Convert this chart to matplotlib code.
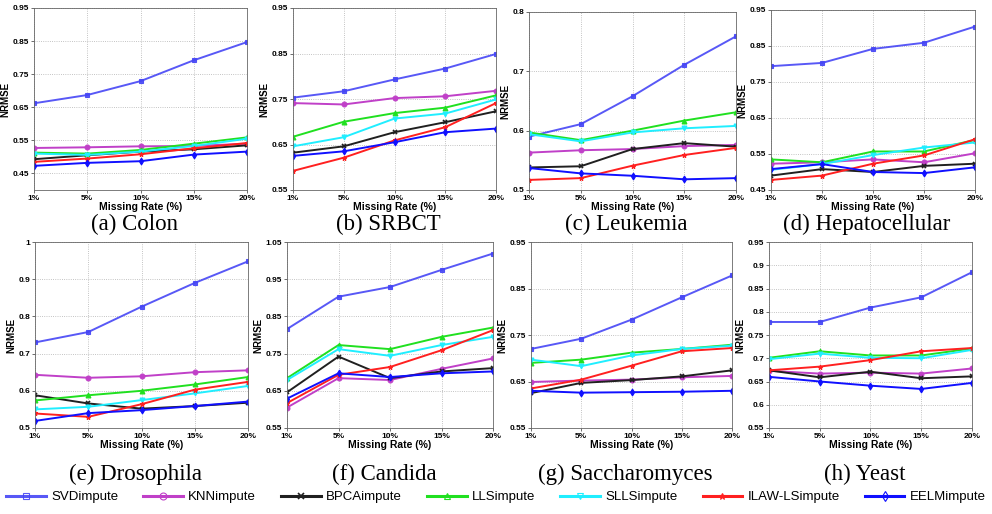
import numpy as np
import matplotlib
matplotlib.use('Agg')
import matplotlib.pyplot as plt

# missing rates and methods
rates = ['1%', '5%', '10%', '15%', '20%']
methods = ['SVDimpute', 'KNNimpute', 'BPCAimpute', 'LLSimpute',
           'SLLSimpute', 'ILAW-LSimpute', 'EELMimpute']

# NRMSE per dataset, one row per method (same order as methods)
colon = [[0.662, 0.687, 0.729, 0.792, 0.847],
         [0.527, 0.529, 0.532, 0.533, 0.540],
         [0.493, 0.505, 0.516, 0.523, 0.535],
         [0.513, 0.510, 0.521, 0.540, 0.559],
         [0.510, 0.506, 0.516, 0.533, 0.555],
         [0.485, 0.495, 0.508, 0.526, 0.542],
         [0.473, 0.482, 0.487, 0.507, 0.516]]
srbct = [[0.753, 0.767, 0.793, 0.817, 0.849],
         [0.741, 0.738, 0.752, 0.756, 0.768],
         [0.632, 0.646, 0.677, 0.699, 0.723],
         [0.667, 0.700, 0.719, 0.731, 0.758],
         [0.646, 0.666, 0.707, 0.718, 0.749],
         [0.592, 0.621, 0.659, 0.688, 0.741],
         [0.625, 0.635, 0.655, 0.677, 0.685]]
leukemia = [[0.590, 0.611, 0.658, 0.711, 0.759],
            [0.563, 0.567, 0.569, 0.574, 0.576],
            [0.538, 0.540, 0.569, 0.579, 0.573],
            [0.597, 0.584, 0.600, 0.617, 0.631],
            [0.594, 0.582, 0.597, 0.604, 0.608],
            [0.517, 0.520, 0.541, 0.559, 0.571],
            [0.537, 0.528, 0.524, 0.518, 0.520]]
hepato = [[0.794, 0.803, 0.842, 0.859, 0.904],
          [0.523, 0.527, 0.535, 0.527, 0.552],
          [0.490, 0.508, 0.500, 0.517, 0.523],
          [0.535, 0.527, 0.557, 0.557, 0.589],
          [0.506, 0.522, 0.547, 0.568, 0.582],
          [0.478, 0.490, 0.523, 0.546, 0.591],
          [0.508, 0.522, 0.500, 0.497, 0.513]]
drosophila = [[0.730, 0.758, 0.826, 0.890, 0.948],
              [0.643, 0.635, 0.639, 0.650, 0.655],
              [0.588, 0.566, 0.552, 0.559, 0.568],
              [0.574, 0.588, 0.600, 0.617, 0.637],
              [0.550, 0.557, 0.575, 0.593, 0.613],
              [0.539, 0.530, 0.564, 0.603, 0.624],
              [0.519, 0.540, 0.548, 0.559, 0.571]]
candida = [[0.816, 0.903, 0.929, 0.975, 1.019],
           [0.605, 0.684, 0.679, 0.709, 0.737],
           [0.646, 0.742, 0.684, 0.702, 0.711],
           [0.684, 0.773, 0.762, 0.795, 0.820],
           [0.679, 0.762, 0.744, 0.773, 0.795],
           [0.617, 0.693, 0.714, 0.759, 0.813],
           [0.629, 0.697, 0.687, 0.697, 0.702]]
saccharo = [[0.720, 0.742, 0.783, 0.831, 0.878],
            [0.649, 0.652, 0.654, 0.659, 0.662],
            [0.625, 0.647, 0.653, 0.661, 0.674],
            [0.690, 0.697, 0.712, 0.720, 0.729],
            [0.697, 0.683, 0.706, 0.720, 0.727],
            [0.635, 0.654, 0.684, 0.715, 0.722],
            [0.630, 0.626, 0.627, 0.628, 0.630]]
yeast = [[0.778, 0.778, 0.809, 0.831, 0.885],
         [0.673, 0.667, 0.669, 0.667, 0.678],
         [0.674, 0.659, 0.671, 0.657, 0.661],
         [0.701, 0.715, 0.706, 0.706, 0.721],
         [0.698, 0.710, 0.701, 0.700, 0.718],
         [0.674, 0.682, 0.696, 0.715, 0.722],
         [0.660, 0.650, 0.641, 0.634, 0.647]]

titles = ['(a) Colon', '(b) SRBCT', '(c) Leukemia', '(d) Hepatocellular',
          '(e) Drosophila', '(f) Candida', '(g) Saccharomyces', '(h) Yeast']
datasets = [colon, srbct, leukemia, hepato, drosophila, candida, saccharo, yeast]

colors = ['#4646f5', '#c040c8', '#202020', '#20e020', '#20eeff', '#ff2020', '#1010ff']
markers = ['s', 'o', 'x', '^', 'v', '*', 'd']

# axes boxes in pixels: left, right, top, bottom
W, H = 992, 514
boxes = [(34, 247, 8, 190), (293, 496, 8, 190), (529, 736, 12, 190), (771, 975, 10, 190),
         (35, 248, 242, 428), (287, 493, 242, 428), (531, 732, 242, 428), (769, 972, 242, 428)]
caption_y = [224, 224, 224, 224, 474, 474, 474, 474]
ylims = [(0.4, 0.95), (0.55, 0.95), (0.5, 0.8), (0.45, 0.95),
         (0.5, 1.0), (0.55, 1.05), (0.55, 0.95), (0.55, 0.95)]
yticks = [np.arange(0.45, 0.96, 0.1), np.arange(0.55, 0.96, 0.1), np.arange(0.5, 0.81, 0.1),
          np.arange(0.45, 0.96, 0.1), np.arange(0.5, 1.01, 0.1), np.arange(0.55, 1.06, 0.1),
          np.arange(0.55, 0.96, 0.1), np.arange(0.55, 0.96, 0.05)]

fig = plt.figure(figsize=(W / 100, H / 100), dpi=100)
x = np.arange(1, len(rates) + 1)
tick_font = dict(family='Liberation Sans', weight='bold', size=6)

handles = []
for i, data in enumerate(datasets):
    l, r, t, b = boxes[i]
    ax = fig.add_axes([l / W, 1 - b / H, (r - l) / W, (b - t) / H])
    for j, row in enumerate(data):
        ln, = ax.plot(x, row, color=colors[j], marker=markers[j], markersize=3.5,
                      lw=1.4, mew=1.2 if markers[j] == 'x' else 0.8, label=methods[j],
                      alpha=0.9 if j == 0 else 1.0)
        if i == 0:
            handles.append(ln)
    ax.set_xlim(1, 5)
    ax.set_ylim(*ylims[i])
    ax.set_xticks(x)
    ax.set_xticklabels(rates, fontdict=tick_font)
    yt = np.round(yticks[i], 2)
    ax.set_yticks(yt)
    ax.set_yticklabels(['%g' % v for v in yt], fontdict=tick_font)
    ax.tick_params(length=2, width=0.6, pad=1.5, color='#555555')
    ax.grid(True, ls=':', lw=0.6, color='#b0b0b0')
    for s in ax.spines.values():
        s.set_linewidth(0.6)
        s.set_color('#666666')
    ax.set_ylabel('NRMSE', family='Liberation Sans', weight='bold', size=7, labelpad=1.5)
    ax.set_xlabel('Missing Rate (%)', family='Liberation Sans', weight='bold', size=7.5, labelpad=0)
    fig.text((l + r) / 2 / W - 0.006, 1 - caption_y[i] / H, titles[i], family='Liberation Serif',
             size=16.5, ha='center', va='center')

leg = fig.legend(handles, methods, loc='center', bbox_to_anchor=(0.5, 0.033), ncol=7,
                 frameon=False, handlelength=3.0, columnspacing=1.9, handletextpad=0.4,
                 prop=dict(family='Liberation Sans', size=9.5))
for h in leg.legend_handles:
    h.set_linewidth(2.2)
    h.set_markerfacecolor('none')
    h.set_markersize(5)

fig.savefig('out.png', dpi=100)
